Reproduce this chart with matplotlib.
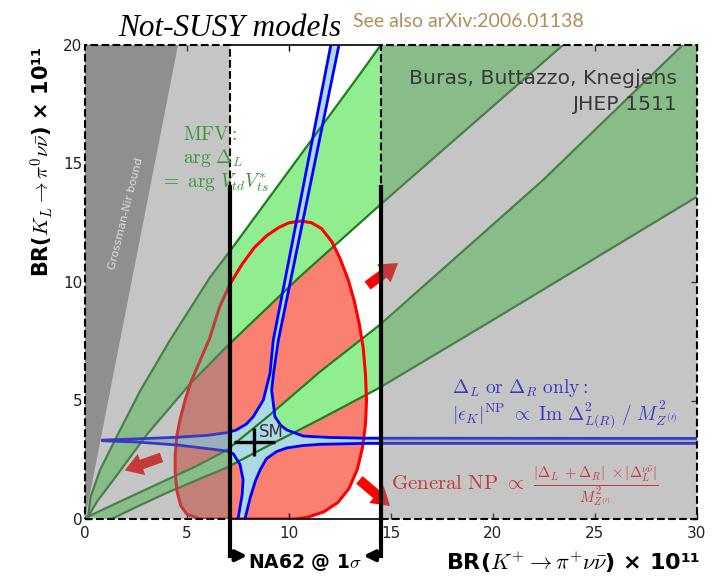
import matplotlib
matplotlib.use('Agg')
import matplotlib.pyplot as plt
from matplotlib.patches import Polygon, Rectangle

plt.rcParams['mathtext.fontset'] = 'cm'

# all values are BR x 1e11: (K+ -> pi+ nu nubar, KL -> pi0 nu nubar)

# MFV bands, arg Delta_L = arg VtdVts*  (two branches)
mfv1_upper = [(0.15, 0.1), (0.28, 0.95), (0.74, 2.07), (1.55, 3.47), (2.7, 5.4), (4.17, 7.55),
              (6.13, 10.2), (7.1, 11.3), (10.6, 15.4), (13.5, 18.8), (14.5, 20.0), (15.0, 20.6)]
mfv1_lower = [(0.15, 0.1), (0.6, 0.75), (1.39, 1.65), (3.02, 3.55), (5.15, 5.7), (6.94, 7.27),
              (10.5, 10.2), (14.46, 13.25), (23.3, 19.9), (24.2, 20.6)]
mfv2_upper = [(0.15, 0.1), (1.0, 0.45), (2.5, 1.05), (4.0, 1.65), (5.5, 2.25), (6.94, 2.9),
              (9.07, 4.4), (11.5, 6.2), (14.46, 8.2), (18.0, 10.9), (22.45, 14.3), (29.3, 20.0),
              (30.5, 21.0)]
mfv2_lower = [(1.3, 0.0), (2.5, 0.5), (4.0, 1.1), (5.5, 1.65), (6.9, 2.15), (9.0, 3.1),
              (11.5, 4.2), (14.46, 5.55), (20.0, 8.4), (25.0, 11.0), (30.0, 13.6), (30.5, 13.9)]

# general NP contour
general_np = [(5.64, 0.0), (5.0, 0.2), (4.7, 0.55), (4.5, 1.2), (4.42, 2.0), (4.42, 2.7),
              (4.5, 3.5), (4.66, 4.2), (4.9, 5.0), (5.2, 5.8), (5.6, 6.6), (6.1, 7.6),
              (6.6, 8.95), (7.1, 9.9), (7.7, 10.75), (8.3, 11.45), (8.9, 11.95), (9.5, 12.3),
              (10.0, 12.5), (10.6, 12.57), (11.1, 12.5), (11.6, 12.25), (12.1, 11.7),
              (12.5, 11.0), (12.9, 10.1), (13.2, 9.2), (13.45, 8.2), (13.64, 7.2), (13.75, 6.1),
              (13.8, 5.0), (13.75, 4.0), (13.6, 3.0), (13.35, 2.1), (12.95, 1.3), (12.4, 0.7),
              (11.7, 0.3), (10.9, 0.07), (10.3, 0.0)]

# Delta_L or Delta_R only
delta_lr = [(0.85, 3.33), (2.5, 3.38), (4.55, 3.45), (6.0, 3.53), (6.94, 3.64), (7.4, 3.75),
            (7.9, 4.0), (8.25, 4.32), (8.74, 5.02), (9.07, 6.15), (9.23, 7.55), (12.05, 20.0),
            (12.2, 20.6), (12.6, 20.6), (12.45, 20.0), (9.48, 7.55), (9.25, 6.2), (9.15, 5.44),
            (9.31, 4.32), (9.6, 3.95), (9.89, 3.76), (10.7, 3.5), (12.0, 3.44), (13.64, 3.41),
            (30.5, 3.40), (30.5, 3.19), (13.64, 3.19), (11.5, 3.15), (10.7, 3.1), (9.9, 3.0),
            (9.4, 2.85), (8.9, 2.55), (8.6, 2.1), (8.35, 1.6), (8.1, 0.9), (7.84, 0.0),
            (7.78, -0.3), (7.42, -0.3), (7.5, 0.0), (7.7, 1.0), (7.75, 1.65), (7.6, 2.3),
            (7.27, 2.75), (6.94, 2.87), (6.0, 2.97), (4.55, 3.12), (2.5, 3.25), (0.85, 3.30)]

sm = (8.3, 3.25)
sm_err = (1.0, 0.6)
na62 = (7.1, 14.5)
na62_top = 14.0
gn_top = 4.56          # Grossman-Nir line reaches BR(KL)=20 here
np_arrows = [((13.85, 9.85), (15.35, 10.8)), ((13.45, 1.65), (14.95, 0.55)), ((3.75, 2.6), (1.95, 2.05))]

xticks = [0, 5, 10, 15, 20, 25, 30]
yticks = [0, 5, 10, 15, 20]

fig = plt.figure(figsize=(7.13, 5.81), dpi=100)
ax = fig.add_axes([85 / 713, 1 - 519 / 581, 612 / 713, 474 / 581])
ax.set_xlim(0, 30)
ax.set_ylim(0, 20)

# fills
ax.add_patch(Polygon(general_np, closed=True, fc='salmon', ec='none', zorder=1))
ax.add_patch(Polygon(mfv1_upper + mfv1_lower[::-1], closed=True, fc='lightgreen', ec='none', zorder=2))
ax.add_patch(Polygon(mfv2_upper + mfv2_lower[::-1], closed=True, fc='lightgreen', ec='none', zorder=2))
ax.add_patch(Polygon(delta_lr, closed=True, fc='lightblue', ec='none', zorder=3))

# outlines
for curve in (mfv1_upper, mfv1_lower, mfv2_upper, mfv2_lower):
    ax.plot([p[0] for p in curve], [p[1] for p in curve], color='#1f7f1f', lw=1.6, zorder=4)
ax.add_patch(Polygon(general_np, closed=True, fc='none', ec='red', lw=2.2, zorder=5,
                     joinstyle='round'))
ax.add_patch(Polygon(delta_lr, closed=True, fc='none', ec='blue', lw=2.0, zorder=6,
                     joinstyle='round'))

ax.errorbar([sm[0]], [sm[1]], xerr=[sm_err[0]], yerr=[sm_err[1]], fmt='none', ecolor='black',
            elinewidth=2.4, capsize=0, zorder=7)
ax.text(sm[0] + 0.22, sm[1] + 0.22, 'SM', fontsize=12, color='#333333', zorder=7)

for (x0, y0), (x1, y1) in np_arrows:
    ax.annotate('', xy=(x1, y1), xytext=(x0, y0), zorder=6,
                arrowprops=dict(arrowstyle='simple,head_width=0.95,head_length=0.75,tail_width=0.42',
                                fc='red', ec='none', mutation_scale=17, shrinkA=0, shrinkB=0))

ax.text(29.0, 18.35, 'Buras, Buttazzo, Knegjens', fontsize=14.7, ha='right', va='baseline', zorder=7)
ax.text(29.0, 17.26, 'JHEP 1511', fontsize=14.7, ha='right', va='baseline', zorder=7)
ax.text(18.0, 5.3, r'$\Delta_L\ \mathrm{or}\ \Delta_R\ \mathrm{only:}$', fontsize=14,
        color='blue', va='baseline', zorder=7)
ax.text(18.0, 4.18, r'$|\epsilon_K|^{\mathrm{NP}}\ \propto\ \mathrm{Im}\ \Delta^2_{L(R)}\ /\ M^2_{Z^{(\prime)}}$',
        fontsize=14, color='blue', va='baseline', zorder=7)
ax.text(15.0, 1.25, r'$\mathrm{General\ NP}\ \propto\ \frac{|\Delta_L\ +\Delta_R|\ \times|\Delta_L^{\nu\bar\nu}|}{M^2_{Z^{(\prime)}}}$',
        fontsize=15, color='red', va='baseline', zorder=7)

# excluded regions (outside NA62 1 sigma) and Grossman-Nir bound
ax.add_patch(Rectangle((0, 0), na62[0], 20, fc=(0.5, 0.5, 0.5), alpha=0.45, ec='none', zorder=8))
ax.add_patch(Rectangle((na62[1], 0), 30 - na62[1], 20, fc=(0.5, 0.5, 0.5), alpha=0.45, ec='none', zorder=8))
ax.add_patch(Polygon([(0, 0), (gn_top, 20), (0, 20)], closed=True, fc='#8f8f8f', ec='none', zorder=9))
ax.text(2.0, 12.9, 'Grossman-Nir bound', fontsize=8, color='#dcdcdc', rotation=76,
        ha='center', va='center', zorder=10)

for x0, w in ((0, na62[0]), (na62[1], 30 - na62[1])):
    ax.add_patch(Rectangle((x0, 0), w, 20, fill=False, ec='black', ls='--', lw=1.5,
                           zorder=10, clip_on=False))
for spine in ax.spines.values():
    spine.set_visible(False)
ax.plot(na62, [0, 0], color='black', lw=1.2, zorder=10, clip_on=False)
ax.plot(na62, [20, 20], color='black', lw=1.2, zorder=10, clip_on=False)

# NA62 1 sigma range
for x, x_end in ((na62[0], na62[0] + 0.85), (na62[1], na62[1] - 0.85)):
    ax.plot([x, x], [na62_top, -1.55], color='black', lw=3, zorder=11, clip_on=False,
            solid_capstyle='projecting')
    ax.annotate('', xy=(x_end, -1.55), xytext=(x, -1.55), annotation_clip=False, zorder=11,
                arrowprops=dict(arrowstyle='-|>', color='black', lw=3, mutation_scale=16,
                                shrinkA=0, shrinkB=0))
ax.text(sum(na62) / 2, -1.85, r'NA62 @ 1$\sigma$', fontsize=13.5, fontweight='bold',
        ha='center', va='center', clip_on=False, zorder=11)

ax.text(4.82, 16.0, r'$\mathrm{MFV:}$', fontsize=14, color='#3c963c', va='baseline', zorder=12)
ax.text(4.82, 15.0, r'$\mathrm{arg}\ \Delta_L$', fontsize=14, color='#3c963c', va='baseline', zorder=12)
ax.text(3.68, 14.02, r'$=\ \mathrm{arg}\ V_{td}V_{ts}^{*}$', fontsize=14, color='#3c963c',
        va='baseline', zorder=12)

ax.set_xticks(xticks)
ax.set_yticks(yticks)
ax.tick_params(direction='in', top=True, right=True, length=4, width=1, labelsize=11,
               labelcolor='#222222')
ax.tick_params(axis='x', pad=5)
ax.tick_params(axis='y', pad=2)

fig.text(700 / 713, 1 - 562 / 581, r'BR($K^{+} \rightarrow \pi^{+} \nu\bar{\nu}$) × 10¹¹',
         fontsize=16, fontweight='bold', ha='right', va='center')
fig.text(42 / 713, 1 - 46 / 581, r'BR($K_{L} \rightarrow \pi^{0} \nu\bar{\nu}$) × 10¹¹',
         fontsize=15, fontweight='bold', rotation=90, ha='center', va='top')

fig.text(118 / 713, 1 - 36 / 581, 'Not-SUSY models', fontsize=22.5, style='italic',
         family='Liberation Serif', va='baseline')
fig.text(353 / 713, 1 - 27 / 581, 'See also arXiv:2006.01138', fontsize=14, color='#b48c5a',
         family='Lato', va='baseline')

fig.savefig('out.png', dpi=100)
